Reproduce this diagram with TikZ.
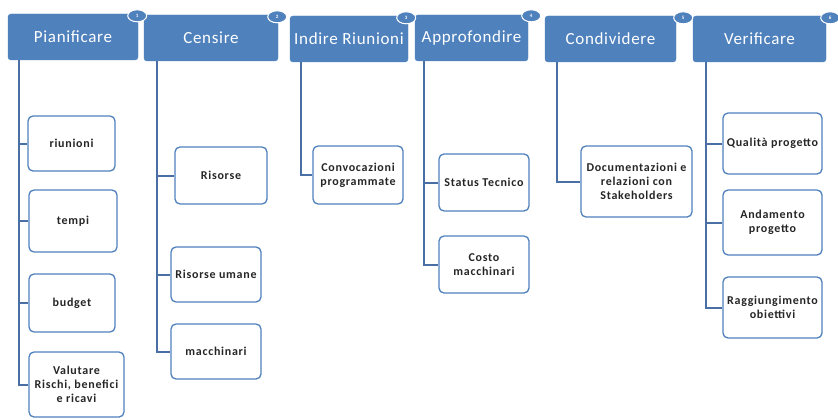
\documentclass[tikz,border=0pt]{standalone}
\usepackage{fontspec}
\setmainfont{Carlito}
\newfontfamily\fasefont[LetterSpace=4]{Carlito}
\newfontfamily\vocefont[LetterSpace=6]{Carlito}
\usepackage{tikz}
\usetikzlibrary{positioning,shapes.geometric}

\definecolor{capoblu}{HTML}{4F81BD}
\definecolor{lineablu}{HTML}{4A6FA5}

\begin{document}
\begin{tikzpicture}[x=1pt,y=-1pt,
  fase/.style={draw=capoblu,fill=capoblu,rounded corners=3pt,text=white,
    font=\fasefont\fontsize{17}{19}\selectfont,minimum height=46pt,inner sep=0pt},
  numero/.style={ellipse,draw=white,line width=1pt,fill=capoblu,text=white,
    font=\fontsize{5}{5}\selectfont\bfseries,minimum width=19pt,minimum height=12pt,inner sep=0pt},
  voce/.style={draw=capoblu,fill=white,line width=1.3pt,rounded corners=5pt,
    align=center,font=\vocefont\fontsize{12}{14}\selectfont\bfseries,text=black!85,inner sep=0pt},
  ramo/.style={draw=lineablu,line width=2pt}]
\useasboundingbox (0,0) rectangle (838,420);

% fasi
\node[fase,minimum width=130pt] (h1) at (73,37) {Pianificare};
\node[fase,minimum width=134pt] (h2) at (211,38) {Censire};
\node[fase,minimum width=118pt] (h3) at (349,39) {Indire Riunioni};
\node[fase,minimum width=113pt] (h4) at (471.5,38) {Approfondire};
\node[fase,minimum width=131pt] (h5) at (610.5,39) {Condividere};
\node[fase,minimum width=133pt] (h6) at (759.5,39) {Verificare};

\node[numero] (n1) at ([xshift=-1pt,yshift=-2pt]h1.north east) {1};
\node[numero] (n2) at ([xshift=-1pt,yshift=-2pt]h2.north east) {2};
\node[numero] (n3) at ([xshift=-2pt,yshift=-2pt]h3.north east) {3};
\node[numero] (n4) at ([xshift=3pt,yshift=-1pt]h4.north east) {4};
\node[numero] (n5) at ([xshift=7pt,yshift=-2pt]h5.north east) {5};
\node[numero] (n6) at ([xshift=4pt,yshift=-2pt]h6.north east) {6};

% voci
\node[voce,minimum width=87pt,minimum height=55pt] (c11) at (71.5,143.5) {riunioni};
\node[voce,minimum width=88pt,minimum height=62pt] (c12) at (73,221) {tempi};
\node[voce,minimum width=86pt,minimum height=58pt] (c13) at (72,303) {budget};
\node[voce,minimum width=95pt,minimum height=65pt] (c14) at (76.5,384.5) {Valutare\\Rischi, benefici\\e ricavi};
\node[voce,minimum width=92pt,minimum height=57pt] (c21) at (221,175.5) {Risorse};
\node[voce,minimum width=90pt,minimum height=55pt] (c22) at (216,274.5) {Risorse umane};
\node[voce,minimum width=90pt,minimum height=55pt] (c23) at (216,351.5) {macchinari};
\node[voce,minimum width=90pt,minimum height=58pt] (c31) at (358,175) {Convocazioni\\programmate};
\node[voce,minimum width=90pt,minimum height=57pt] (c41) at (484,182.5) {Status Tecnico};
\node[voce,minimum width=90pt,minimum height=57pt] (c42) at (484,264.5) {Costo\\macchinari};
\node[voce,minimum width=111pt,minimum height=71pt] (c51) at (636.5,181.5) {Documentazioni e\\relazioni con\\Stakeholders};
\node[voce,minimum width=99pt,minimum height=61pt] (c61) at (772.5,143.5) {Qualità progetto};
\node[voce,minimum width=99pt,minimum height=65pt] (c62) at (772.5,222.5) {Andamento\\progetto};
\node[voce,minimum width=99pt,minimum height=61pt] (c63) at (772.5,307.5) {Raggiungimento\\obiettivi};

% rami
\foreach \c in {c11,c12,c13,c14}
  \draw[ramo] ([xshift=11pt]h1.south west) |- (\c.west);
\foreach \c in {c21,c22,c23}
  \draw[ramo] ([xshift=13pt]h2.south west) |- (\c.west);
\draw[ramo] ([xshift=11pt]h3.south west) |- (c31.west);
\foreach \c in {c41,c42}
  \draw[ramo] ([xshift=9pt]h4.south west) |- (\c.west);
\draw[ramo] ([xshift=12pt]h5.south west) |- (c51.west);
\foreach \c in {c61,c62,c63}
  \draw[ramo] ([xshift=13pt]h6.south west) |- (\c.west);
\end{tikzpicture}
\end{document}
